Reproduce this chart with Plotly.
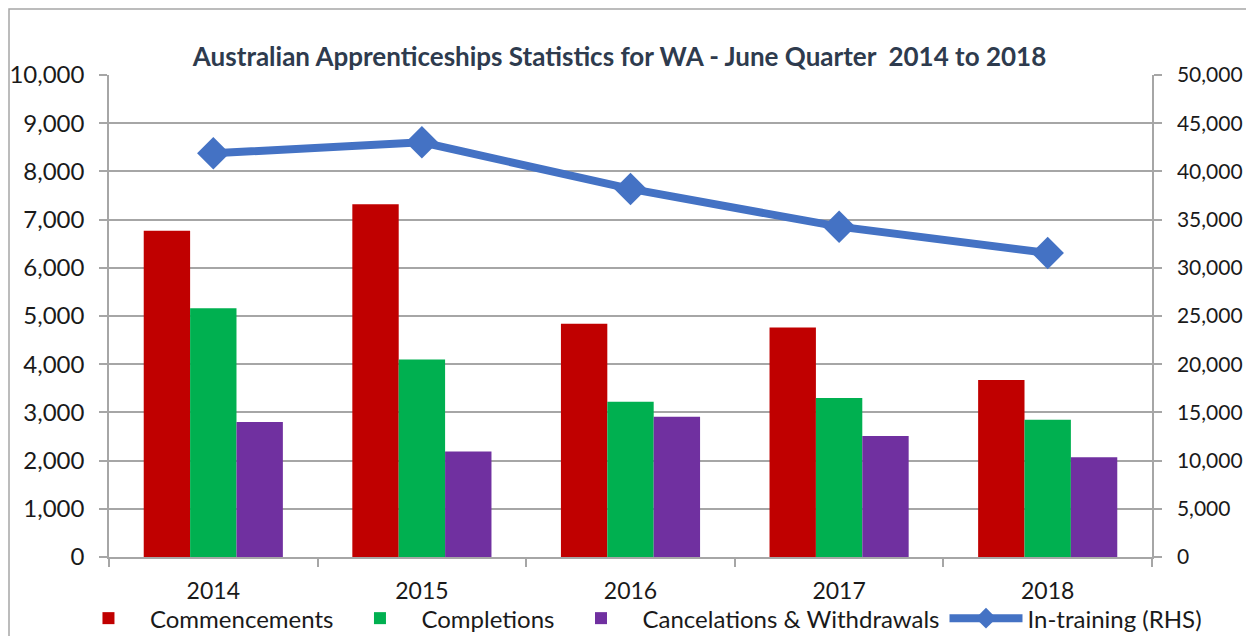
import plotly.graph_objects as go

years = ["2014", "2015", "2016", "2017", "2018"]
commencements = [6770, 7320, 4840, 4760, 3670]
completions = [5160, 4100, 3220, 3300, 2850]
cancellations = [2800, 2190, 2910, 2510, 2070]
in_training = [41880, 43020, 38180, 34270, 31540]

FONT = "Lato"
TXT = "#1a1a1a"
GRID = "#a6a6a6"

# page is rendered with an 8px body margin, so the figure is sized to fit the window
W, H = 1238, 628
L, T, PW, PH = 101, 67, 1043, 482

fig = go.Figure()
fig.add_trace(go.Bar(x=years, y=commencements, name="Commencements",
                     marker=dict(color="#C00000", line=dict(width=0))))
fig.add_trace(go.Bar(x=years, y=completions, name="Completions",
                     marker=dict(color="#00B050", line=dict(width=0))))
fig.add_trace(go.Bar(x=years, y=cancellations, name="Cancelations & Withdrawals",
                     marker=dict(color="#7030A0", line=dict(width=0))))
fig.add_trace(go.Scatter(x=years, y=in_training, name="In-training (RHS)", yaxis="y2",
                         mode="lines+markers",
                         line=dict(color="#4472C4", width=8),
                         marker=dict(symbol="diamond", size=25, color="#4472C4")))

fig.update_layout(
    width=W, height=H,
    margin=dict(l=L, r=W - L - PW, t=T, b=H - T - PH, autoexpand=False),
    paper_bgcolor="white", plot_bgcolor="white",
    font=dict(family=FONT, size=22, color=TXT),
    title=dict(text="<b>Australian Apprenticeships Statistics for WA - June Quarter  2014 to 2018</b>",
               xref="paper", x=0.4895, xanchor="center", y=1 - 49 / H, yanchor="middle",
               font=dict(family=FONT, size=26, color="#2E3B4E")),
    barmode="group", bargap=0.333, bargroupgap=0,
    xaxis=dict(type="category", showgrid=False, showline=True, linecolor=GRID, linewidth=1.5,
               ticks="outside", tickson="boundaries", ticklen=8, tickcolor=GRID, tickwidth=1.5,
               tickfont=dict(size=23, color=TXT), ticklabelstandoff=13, automargin=False),
    yaxis=dict(range=[0, 10000], dtick=1000, tickformat=",", showgrid=True, gridcolor=GRID,
               gridwidth=1.5, showline=True, linecolor=GRID, linewidth=1.5,
               ticks="outside", ticklen=8, tickcolor=GRID, tickwidth=1.5, ticklabelstandoff=10,
               tickfont=dict(size=24, color=TXT), zeroline=False, automargin=False),
    yaxis2=dict(range=[0, 50000], dtick=5000, tickformat=",", overlaying="y", side="right",
                showgrid=False, showline=True, linecolor=GRID, linewidth=1.5,
                ticks="outside", ticklen=8, tickcolor=GRID, tickwidth=1.5, ticklabelstandoff=11,
                tickfont=dict(size=21, color=TXT), zeroline=False, automargin=False),
    legend=dict(orientation="h", x=-0.0403, xanchor="left", y=-0.081, yanchor="top",
                font=dict(size=24, color=TXT), itemwidth=73, traceorder="normal",
                bgcolor="rgba(0,0,0,0)"),
    shapes=[dict(type="rect", xref="paper", yref="paper",
                 x0=-(L - 1) / PW, x1=1.2, y0=-0.25, y1=1 + (T - 1) / PH,
                 line=dict(color=GRID, width=1.5), fillcolor="rgba(0,0,0,0)", layer="below")],
)

fig.write_html("out.html")
